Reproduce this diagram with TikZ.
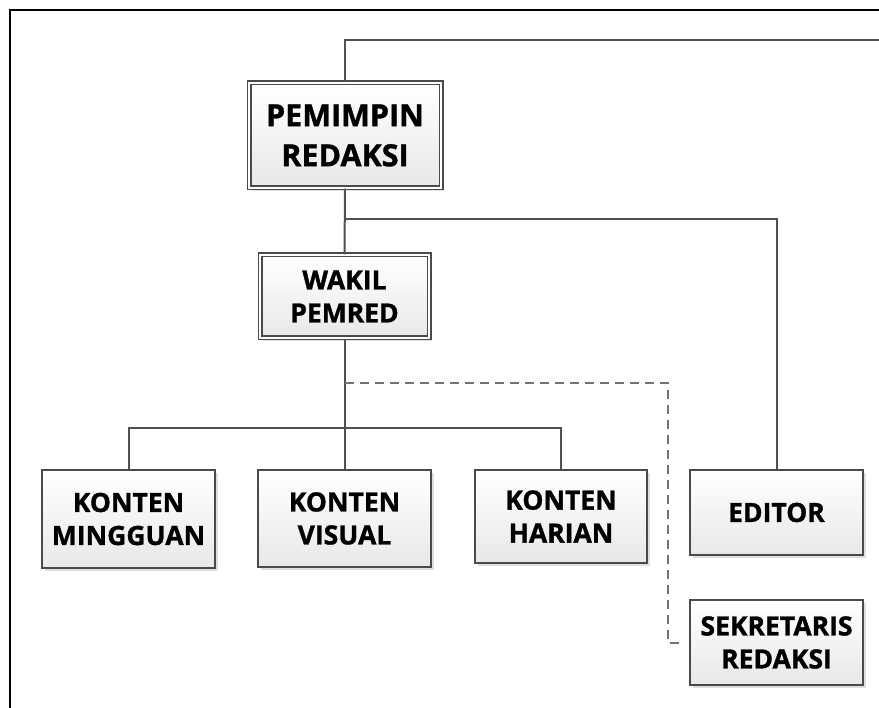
\documentclass[tikz,border=0pt]{standalone}
\usepackage{fontspec}
\setmainfont{Open Sans}[BoldFeatures={FakeBold=1.2}]
\usetikzlibrary{shadows}
\definecolor{linegray}{HTML}{505050}
\definecolor{boxline}{HTML}{4A4A4A}
\definecolor{boxbot}{HTML}{E8E8E8}
\tikzset{
  unitbox/.style={rectangle, draw=boxline, line width=1.5pt, top color=white, bottom color=boxbot,
    align=center, inner sep=0pt, font=\bfseries\fontsize{26.5}{33}\selectfont,
    drop shadow={shadow xshift=3pt, shadow yshift=-3pt, opacity=0.25, fill=gray}},
  dblbox/.style={unitbox, double=white, double distance=2.6pt, line width=1.2pt},
  conn/.style={draw=linegray, line width=2pt},
  dconn/.style={draw=linegray!80, line width=1.8pt, dash pattern=on 9pt off 6pt},
}
\begin{document}
\begin{tikzpicture}[x=1pt,y=-1pt]
\useasboundingbox (0,0) rectangle (879,708);
\fill[white] (0,0) rectangle (879,708);
\draw[black, line width=2pt] (10,708) -- (10,10) -- (880,10);

\node[dblbox, minimum width=192pt, minimum height=105pt, font=\bfseries\fontsize{30.5}{40}\selectfont] (pr) at (345,135.5) {PEMIMPIN\\REDAKSI};
\node[dblbox, minimum width=169pt, minimum height=83pt] (wk) at (344.5,296.5) {WAKIL\\PEMRED};
\node[unitbox, minimum width=173pt, minimum height=98pt] (km) at (128.5,519) {KONTEN\\MINGGUAN};
\node[unitbox, minimum width=173pt, minimum height=97pt] (kv) at (344.5,518.5) {KONTEN\\VISUAL};
\node[unitbox, minimum width=172pt, minimum height=93pt] (kh) at (561,516.5) {KONTEN\\HARIAN};
\node[unitbox, minimum width=173pt, minimum height=85pt] (ed) at (776.5,512.5) {EDITOR};
\node[unitbox, minimum width=173pt, minimum height=85pt] (sk) at (776.5,642.5) {SEKRETARIS\\REDAKSI};

\coordinate (topend) at (880,40);
\coordinate (b1) at (345,219);
\coordinate (bar) at (345,428);
\coordinate (d1) at (345,383);
\coordinate (dend) at (683,643);

\draw[conn] (pr.north) |- (topend);
\draw[conn] (pr.south) -- (wk.north);
\draw[conn] (b1) -| (ed.north);
\draw[conn] (wk.south) -- (kv.north);
\draw[conn] (km.north) |- (bar) -| (kh.north);
\draw[dconn] (d1) -| ([xshift=-15pt]dend) -- (dend);
\end{tikzpicture}
\end{document}
